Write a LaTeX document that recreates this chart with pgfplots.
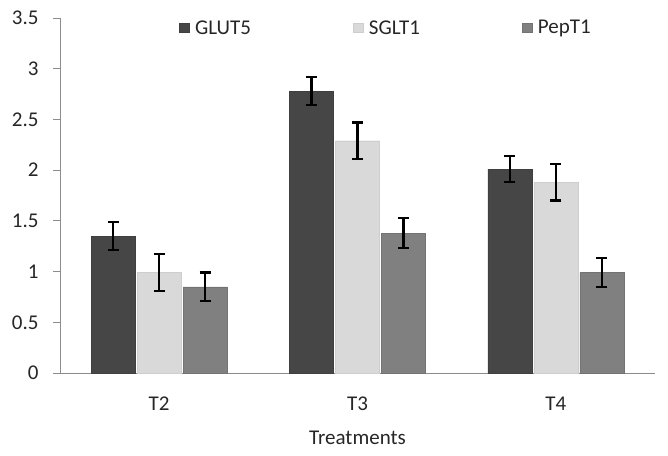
\documentclass[border=0pt]{standalone}
\usepackage{pgfplots}
\pgfplotsset{compat=1.18}
\usepackage{fontspec}
\setmainfont{Carlito}
\definecolor{cG}{HTML}{464646}
\definecolor{cS}{HTML}{D9D9D9}
\definecolor{cP}{HTML}{808080}
\definecolor{axc}{HTML}{8C8C8C}
\begin{document}
\begin{tikzpicture}
\path[use as bounding box] (0,0) rectangle (668pt,455pt);
\begin{axis}[
  at={(60pt,82pt)}, anchor=south west,
  scale only axis, width=595pt, height=355pt,
  xmin=-0.5, xmax=2.5, ymin=0, ymax=3.5,
  ybar, bar width=44pt,
  axis x line*=bottom, axis y line*=left,
  axis line style={axc, line width=0.8pt},
  every tick/.style={axc, line width=0.8pt},
  tick align=outside,
  ytick={0,0.5,1,1.5,2,2.5,3,3.5},
  yticklabel style={anchor=east, xshift=-11pt},
  major tick length=7pt,
  xtick={0,1,2}, xticklabels={T2,T3,T4},
  xtick style={draw=none},
  extra x ticks={-0.5,0.5,1.5,2.5}, extra x tick labels={},
  extra x tick style={tick style={axc, line width=0.8pt, draw=axc}},
  xticklabel style={yshift=-13pt},
  /pgf/number format/assume math mode=true,
  tick label style={font=\fontsize{21}{24}\selectfont, text=black!85},
  xlabel={Treatments},
  xlabel style={font=\fontsize{21}{24}\selectfont, text=black!85, yshift=0pt},
  legend style={at={(0.2,0.972)}, anchor=west, draw=none, fill=none, inner sep=0pt,
    legend columns=3, font=\fontsize{21}{24}\selectfont, text=black!85,
    /tikz/every odd column/.append style={column sep=4pt},
    /tikz/every even column/.append style={column sep=100pt}},
  legend image code/.code={\fill[#1] (0pt,-4.5pt) rectangle (9.5pt,5pt);},
  error bars/y dir=both, error bars/y explicit,
  error bars/error bar style={line width=2.2pt, black},
  error bars/error mark options={rotate=90, mark size=5.5pt, line width=2.2pt, black},
]
\addplot[fill=cG, draw=cG!90!black] coordinates {(0,1.35) +- (0,0.14) (1,2.78) +- (0,0.14) (2,2.01) +- (0,0.13)};
\addplot[fill=cS, draw=cS!95!black] coordinates {(0,0.99) +- (0,0.18) (1,2.29) +- (0,0.18) (2,1.88) +- (0,0.18)};
\addplot[fill=cP, draw=cP!90!black] coordinates {(0,0.85) +- (0,0.14) (1,1.38) +- (0,0.15) (2,0.99) +- (0,0.14)};
\legend{GLUT5,SGLT1,PepT1}
\end{axis}
\end{tikzpicture}
\end{document}
